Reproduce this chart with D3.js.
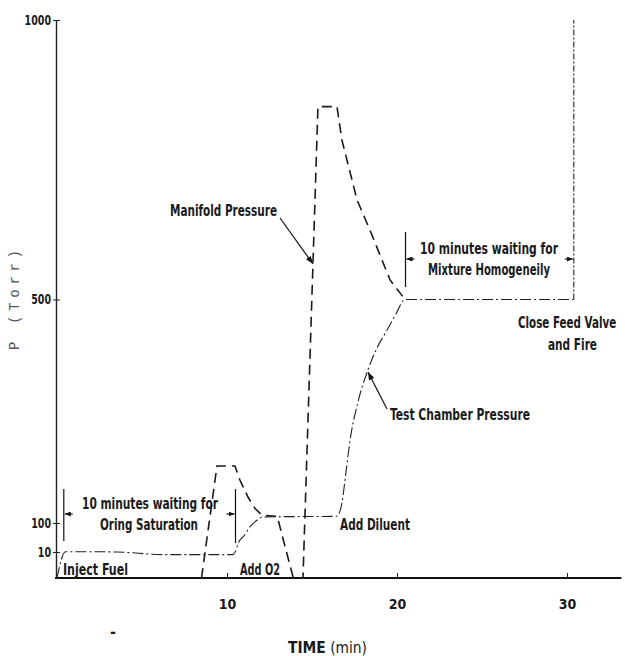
<!DOCTYPE html>
<html>
<head>
<meta charset="utf-8">
<script src="https://cdn.jsdelivr.net/npm/d3@7"></script>
<style>
	body { margin: 0; background: #fff; }
	svg { display: block; }
	.lbl { font-family: "Liberation Sans Narrow", "DejaVu Sans Condensed", "Arial Narrow", sans-serif; fill: #1a1a1a; font-size: 16px; font-weight: bold; }
	.tick text { font-family: "Liberation Sans Narrow", "DejaVu Sans Condensed", sans-serif; font-size: 14px; fill: #1a1a1a; font-weight: bold; }
</style>
</head>
<body>
<svg id="chart" width="625" height="656"></svg>
<script>
'use strict';

// values: time in min, pressure in Torr
var chamberTime = [0, 0.5, 1.5, 3.5, 6.3, 10.35, 10.76, 11.0, 11.35, 11.76, 12.12, 16.47, 16.76, 17.0, 17.24, 17.7, 18.29, 18.82, 19.41, 19.94, 20.47, 30.4];
var chamberP    = [0, 11, 11, 10, 9, 9, 47, 60, 88, 105, 111, 112, 136, 191, 248, 316, 374, 413, 445, 474, 500, 500];

var manifoldTime = [8.5, 9.41, 10.47, 10.76, 11.24, 11.65, 12.06, 12.95, 13.9, 14.47, 15.35, 16.47, 16.76, 17.65, 18.41, 19.59, 20.47];
var manifoldP    = [0, 202, 202, 177, 146, 126, 114, 112, 0, 0, 845, 845, 785, 678, 624, 535, 500];

// close feed valve and fire
var fireTime = [30.4, 30.4];
var fireP    = [500, 1000];

var xTicks = [10, 20, 30];
var yTicks = [10, 100, 500, 1000];

var svg = d3.select('#chart');

var x = d3.scaleLinear().domain([0, 30]).range([57, 567]);
var y = d3.scaleLinear().domain([0, 10, 100, 1000]).range([578, 552, 523, 20]);

var defs = svg.append('defs');
defs.append('marker')
	.attr('id', 'arr')
	.attr('markerUnits', 'userSpaceOnUse')
	.attr('markerWidth', 8).attr('markerHeight', 6)
	.attr('refX', 8).attr('refY', 3)
	.attr('orient', 'auto')
	.append('path').attr('d', 'M0,0L8,3L0,6z').attr('fill', '#111');
defs.append('marker')
	.attr('id', 'arrs')
	.attr('markerUnits', 'userSpaceOnUse')
	.attr('markerWidth', 6).attr('markerHeight', 5)
	.attr('refX', 6).attr('refY', 2.5)
	.attr('orient', 'auto')
	.append('path').attr('d', 'M0,0L6,2.5L0,5z').attr('fill', '#111');

// axes
var gx = svg.append('g')
	.attr('transform', 'translate(0,' + y(0) + ')')
	.call(d3.axisBottom(x).tickValues(xTicks).tickSize(-5).tickPadding(21).tickFormat(d3.format('d')));
gx.select('.domain').remove();
gx.selectAll('.tick line').attr('stroke', '#222');
svg.append('line')
	.attr('x1', 55).attr('x2', x(33.2))
	.attr('y1', y(0)).attr('y2', y(0))
	.attr('stroke', '#111').attr('stroke-width', 2);

var gy = svg.append('g')
	.attr('transform', 'translate(56,0)')
	.call(d3.axisLeft(y).tickValues(yTicks).tickSize(3).tickSizeOuter(0).tickPadding(2).tickFormat(d3.format('d')));
gy.select('.domain').attr('stroke', '#222').attr('stroke-width', 1.4);
gy.selectAll('.tick line').attr('x1', 4).attr('stroke', '#222');
gy.selectAll('.tick text').attr('textLength', function (d) { return String(d).length * 6.6; }).attr('lengthAdjust', 'spacingAndGlyphs');

svg.append('text')
	.attr('transform', 'translate(19,300) rotate(-90)')
	.attr('text-anchor', 'middle')
	.style('font-family', '"Liberation Mono", "DejaVu Sans Mono", monospace')
	.style('font-size', '14px')
	.style('fill', '#555')
	.attr('textLength', 100).attr('lengthAdjust', 'spacing')
	.text('P (Torr)');

var title = svg.append('text')
	.attr('class', 'lbl')
	.attr('x', 288).attr('y', 653)
	.style('font-size', '15px')
	.style('font-weight', 'normal')
	.attr('textLength', 79).attr('lengthAdjust', 'spacingAndGlyphs');
title.append('tspan').style('font-weight', 'bold').text('TIME');
title.append('tspan').text(' (min)');

svg.append('text').attr('class', 'lbl').attr('x', 110).attr('y', 637).text('-');

// curves
var line = d3.line()
	.x(function (d) { return x(d[0]); })
	.y(function (d) { return y(d[1]); });

svg.append('path')
	.datum(d3.zip(manifoldTime, manifoldP))
	.attr('d', line)
	.attr('fill', 'none')
	.attr('stroke', '#1a1a1a')
	.attr('stroke-width', 1.6)
	.attr('stroke-dasharray', '10,6');

svg.append('path')
	.datum(d3.zip(chamberTime, chamberP))
	.attr('d', line.curve(d3.curveMonotoneX))
	.attr('fill', 'none')
	.attr('stroke', '#222')
	.attr('stroke-width', 1.1)
	.attr('stroke-dasharray', '11,3,2,3');
line.curve(d3.curveLinear);

svg.append('path')
	.datum(d3.zip(fireTime, fireP))
	.attr('d', line)
	.attr('fill', 'none')
	.attr('stroke', '#222')
	.attr('stroke-width', 1.1)
	.attr('stroke-dasharray', '6,2,2,2');

// brackets for the waiting periods
function bracket(t0, t1, top, bottom, ay, drawRight) {
	var g = svg.append('g').attr('stroke', '#111').attr('stroke-width', 1.2);
	g.append('line').attr('x1', x(t0)).attr('x2', x(t0)).attr('y1', top).attr('y2', bottom);
	if (drawRight) {
		g.append('line').attr('x1', x(t1)).attr('x2', x(t1)).attr('y1', top).attr('y2', bottom + 2);
	}
	g.append('line').attr('x1', x(t0) + 9).attr('x2', x(t0) + 1).attr('y1', ay).attr('y2', ay).attr('marker-end', 'url(#arrs)');
	g.append('line').attr('x1', x(t1) - 9).attr('x2', x(t1) - 1).attr('y1', ay).attr('y2', ay).attr('marker-end', 'url(#arrs)');
}
bracket(0.4, 10.5, 489, 541, 514, true);
bracket(20.5, 30.4, 232, 287, 259, false);

// leader arrows
svg.append('line')
	.attr('x1', 280).attr('y1', 218).attr('x2', 313).attr('y2', 264)
	.attr('stroke', '#111').attr('stroke-width', 1.2)
	.attr('marker-end', 'url(#arr)');
svg.append('line')
	.attr('x1', 387).attr('y1', 409).attr('x2', 368).attr('y2', 372)
	.attr('stroke', '#111').attr('stroke-width', 1.2)
	.attr('marker-end', 'url(#arr)');

// annotation texts
function note(str, px, py, w) {
	svg.append('text')
		.attr('class', 'lbl')
		.attr('x', px).attr('y', py)
		.attr('textLength', w).attr('lengthAdjust', 'spacingAndGlyphs')
		.text(str);
}
note('Manifold Pressure', 170, 216, 107);
note('10 minutes waiting for', 420, 254, 138);
note('Mixture Homogeneily', 428, 275, 122);
note('and Fire', 548, 350, 49);
note('Test Chamber Pressure', 390, 420, 140);
note('Add Diluent', 340, 530, 70);
note('Add O2', 240, 575, 40);
note('Inject Fuel', 63, 575, 65);
note('10 minutes waiting for', 82, 509, 136);
note('Oring Saturation', 100, 530, 98);

// this one sits against the right edge: small font stretched upward instead of squeezed
svg.append('text')
	.attr('class', 'lbl')
	.attr('transform', 'translate(518,328) scale(1,1.39)')
	.style('font-size', '11.5px')
	.text('Close Feed Valve');
</script>
</body>
</html>
